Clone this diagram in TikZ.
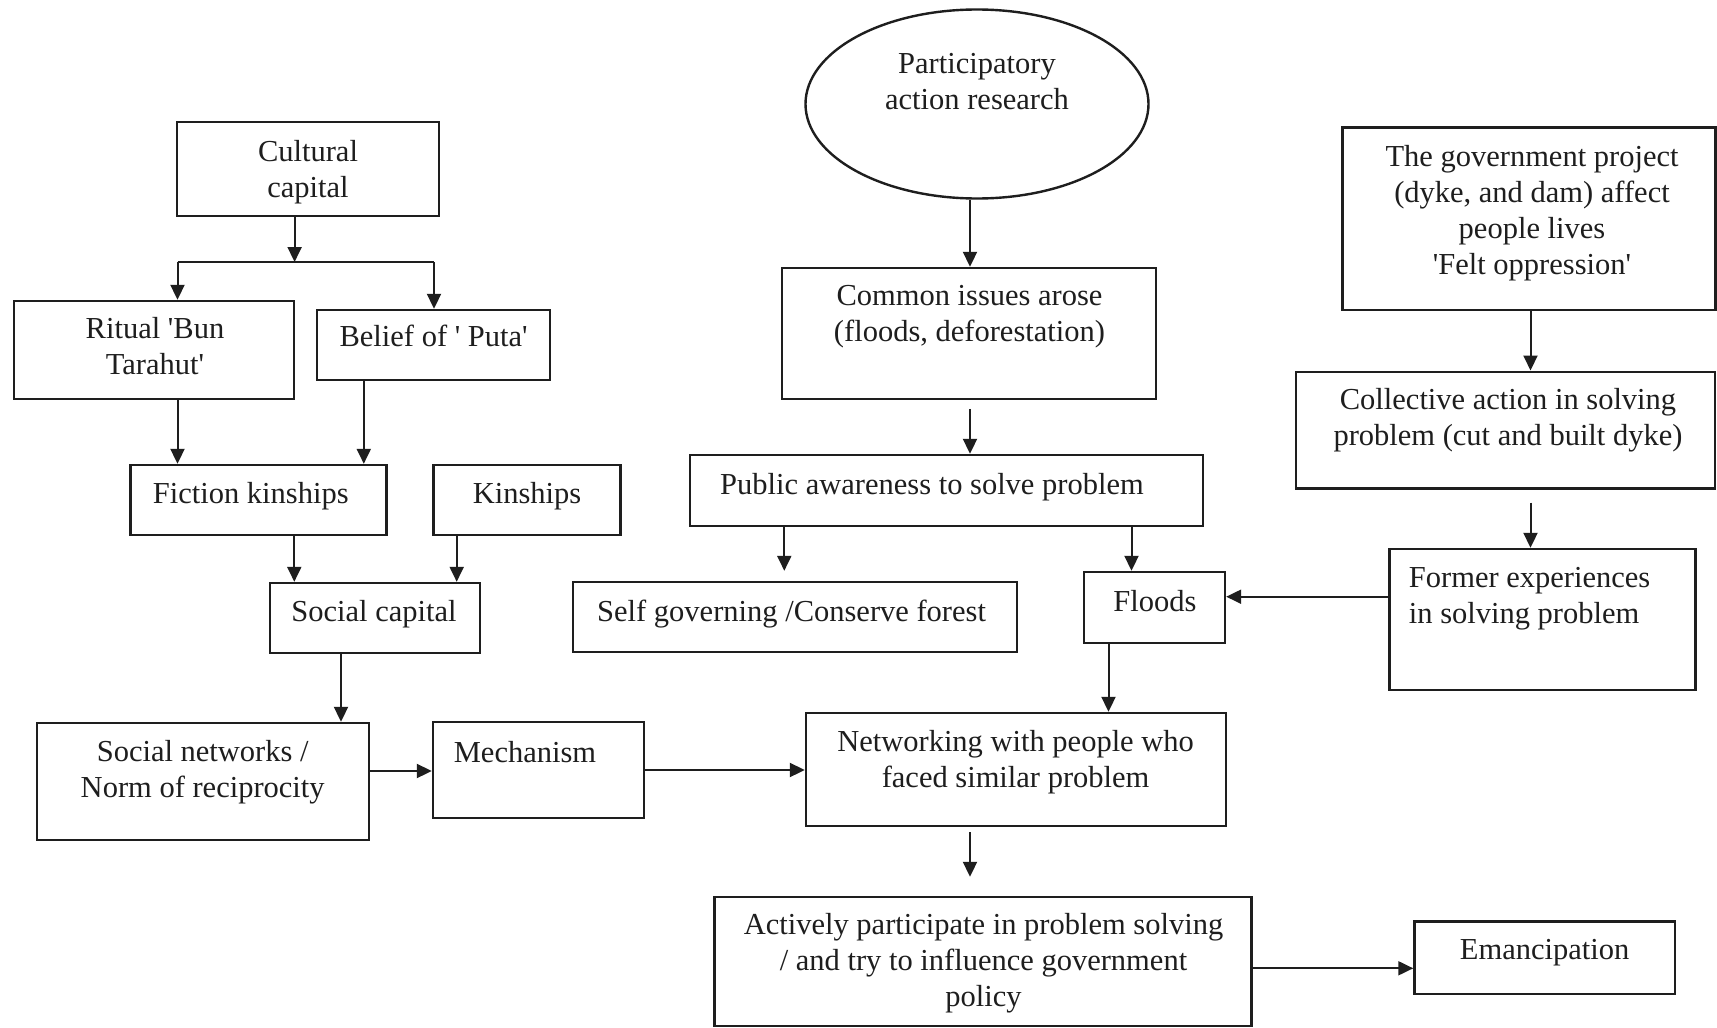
\documentclass[tikz,border=0pt]{standalone}
\usepackage{fontspec}
\setmainfont{Liberation Serif}
\usetikzlibrary{arrows.meta,shapes.geometric}
\definecolor{ink}{HTML}{1E1E1E}
\newcommand{\sq}{\textquotesingle}
\begin{document}
\begin{tikzpicture}[x=1pt,y=-1pt,
  box/.style={draw=ink, line width=2.4pt, inner sep=0pt, rectangle},
  txt/.style={inner sep=0pt, align=center, text=ink, font=\fontsize{30.5pt}{36pt}\selectfont},
  arr/.style={draw=ink, line width=2pt, -{Triangle[length=15pt,width=14pt]}},
  link/.style={draw=ink, line width=2pt}]
\useasboundingbox (0,0) rectangle (1717,1028);
\fill[white] (0,0) rectangle (1717,1028);

% ---- boxes ----
\node[box, minimum width=262pt, minimum height=94pt]   (cult)    at (308,169) {};
\node[box, minimum width=280pt, minimum height=98pt]   (ritual)  at (154,350) {};
\node[box, minimum width=233pt, minimum height=70pt]   (belief)  at (433.5,345) {};
\node[box, minimum width=256pt, minimum height=70pt]   (fiction) at (258.5,500) {};
\node[box, minimum width=187pt, minimum height=70pt]   (kin)     at (527,500) {};
\node[box, minimum width=210pt, minimum height=70pt]   (social)  at (375,618) {};
\node[draw=ink, line width=2.4pt, ellipse, inner sep=0pt,
      minimum width=343pt, minimum height=189pt]       (par)     at (977,104) {};
\node[box, minimum width=374pt, minimum height=131pt]  (common)  at (969,333.5) {};
\node[box, minimum width=513pt, minimum height=71pt]   (public)  at (946.5,490.5) {};
\node[box, minimum width=444pt, minimum height=70pt]   (self)    at (795,617) {};
\node[box, minimum width=141pt, minimum height=71pt]   (floods)  at (1154.5,607.5) {};
\node[box, minimum width=373pt, minimum height=182.7pt] (govt)   at (1529,218.7) {};
\node[box, minimum width=419pt, minimum height=116.6pt] (coll)   at (1505.5,430) {};
\node[box, minimum width=306pt, minimum height=141pt]  (former)  at (1542.3,619.5) {};
\node[box, minimum width=332pt, minimum height=117pt]  (socnet)  at (203,781.5) {};
\node[box, minimum width=211pt, minimum height=96pt]   (mech)    at (538.5,770) {};
\node[box, minimum width=420pt, minimum height=113pt]  (netw)    at (1016,769.5) {};
\node[box, minimum width=537pt, minimum height=129pt]  (active)  at (983,961.5) {};
\node[box, minimum width=260.5pt, minimum height=72.5pt] (eman)  at (1544.7,957.8) {};

% ---- texts ----
\node[txt] (cult-t)    at (308,171.8)   {Cultural\\capital};
\node[txt] (ritual-t)  at (155,346)     {Ritual \sq Bun\\Tarahut\sq};
\node[txt] (belief-t)  at (433.6,336)   {Belief of \sq{} Puta\sq};
\node[txt] (fiction-t) at (250.8,496.5) {Fiction kinships};
\node[txt] (kin-t)     at (527,496.3)   {Kinships};
\node[txt] (social-t)  at (374,614.6)   {Social capital};
\node[txt] (par-t)     at (977,82)      {Participatory\\action research};
\node[txt] (common-t)  at (969.5,316.5) {Common issues arose\\(floods, deforestation)};
\node[txt] (public-t)  at (932,487.3)   {Public awareness to solve problem};
\node[txt] (self-t)    at (791.6,613.9) {Self governing /Conserve forest};
\node[txt] (floods-t)  at (1155,601)    {Floods};
\node[txt] (govt-t)    at (1532,212.9)  {The government project\\(dyke, and dam) affect\\people lives\\\sq Felt oppression\sq};
\node[txt] (coll-t)    at (1508,420.4)  {Collective action in solving\\problem (cut and built dyke)};
\node[txt, align=left, anchor=west] (former-t) at (1408.7,599) {Former experiences\\in solving problem};
\node[txt] (socnet-t)  at (202.7,772)   {Social networks /\\Norm of reciprocity};
\node[txt] (mech-t)    at (525,752.3)   {Mechanism};
\node[txt] (netw-t)    at (1015.6,762.1) {Networking with people who\\faced similar problem};
\node[txt] (active-t)  at (983.5,962.9) {Actively participate in problem solving\\/ and try to influence government\\policy};
\node[txt] (eman-t)    at (1544.6,952.9) {Emancipation};

% ---- guide coordinates for connector positions ----
\coordinate (split)  at (294.6,262);
\coordinate (splitL) at (177.5,262);
\coordinate (splitR) at (434,262);
\coordinate (xbel)   at (363.8,0);
\coordinate (xfic)   at (294.3,0);
\coordinate (xkin)   at (456.7,0);
\coordinate (xsoc)   at (341,0);
\coordinate (ysoc)   at (0,771);
\coordinate (xpar)   at (970,0);
\coordinate (xself)  at (784.3,0);
\coordinate (xfl)    at (1131.5,0);
\coordinate (xfln)   at (1108.5,0);
\coordinate (xgov)   at (1530.5,0);
\coordinate (yfe)    at (0,596.7);
\coordinate (xnet)   at (970,0);
\coordinate (yact)   at (0,968.3);

% ---- connectors ----
\draw[arr] (cult.south -| split) -- (split);
\draw[link] (splitL) -- (splitR);
\draw[arr] (splitL) -- (splitL |- ritual.north);
\draw[arr] (splitR) -- (splitR |- belief.north);
\draw[arr] (ritual.south -| splitL) -- (fiction.north -| splitL);
\draw[arr] (belief.south -| xbel) -- (fiction.north -| xbel);
\draw[arr] (fiction.south -| xfic) -- (social.north -| xfic);
\draw[arr] (kin.south -| xkin) -- (social.north -| xkin);
\draw[arr] (social.south -| xsoc) -- (socnet.north -| xsoc);
\draw[arr] (socnet.east |- ysoc) -- (mech.west |- ysoc);
\draw[arr] (mech.east) -- (netw.west |- mech.east);
\draw[arr] (par.south -| xpar) -- (common.north -| xpar);
\draw[arr, shorten <=8.6pt] (common.south -| xpar) -- (public.north -| xpar);
\draw[arr, shorten >=10pt] (public.south -| xself) -- (self.north -| xself);
\draw[arr] (public.south -| xfl) -- (floods.north -| xfl);
\draw[arr] (floods.south -| xfln) -- (netw.north -| xfln);
\draw[arr] (govt.south -| xgov) -- (coll.north -| xgov);
\draw[arr, shorten <=13pt] (coll.south -| xgov) -- (former.north -| xgov);
\draw[arr] (former.west |- yfe) -- (floods.east |- yfe);
\draw[arr, shorten <=5pt, shorten >=19pt] (netw.south -| xnet) -- (active.north -| xnet);
\draw[arr] (active.east |- yact) -- (eman.west |- yact);
\end{tikzpicture}
\end{document}
